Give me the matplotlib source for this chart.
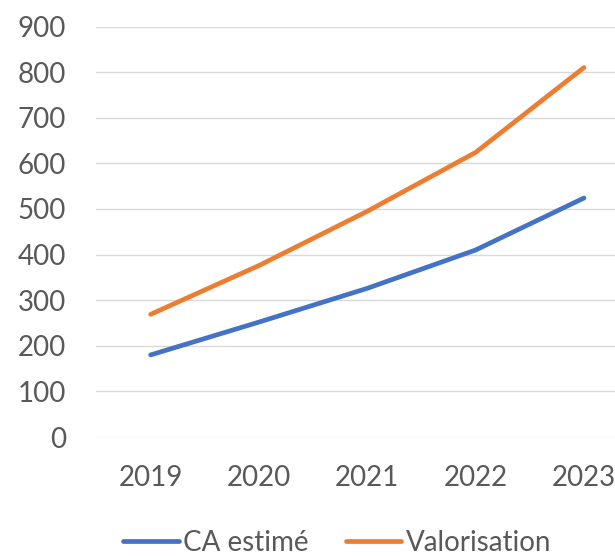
import matplotlib
matplotlib.use("Agg")
import matplotlib.pyplot as plt

years = ["2019", "2020", "2021", "2022", "2023"]
ca_estime = [180, 252, 326, 410, 524]
valorisation = [269, 376, 495, 624, 810]
yticks = [0, 100, 200, 300, 400, 500, 600, 700, 800, 900]

plt.rcParams['font.family'] = ['Lato', 'DejaVu Sans']

fig = plt.figure(figsize=(6.15, 5.56), dpi=100)
ax = fig.add_axes([0.1569, 0.2140, 0.8807, 0.7383])

x = list(range(len(years)))
ax.plot(x, ca_estime, color="#4472C4", lw=3.4, solid_capstyle="round", label="CA estimé", clip_on=False)
ax.plot(x, valorisation, color="#ED7D31", lw=3.4, solid_capstyle="round", label="Valorisation", clip_on=False)

ax.set_xlim(-0.5, len(years) - 0.5)
ax.set_ylim(0, 900)
ax.set_yticks(yticks)
ax.set_xticks(x)
ax.set_xticklabels(years)
ax.grid(axis="y", color="#D9D9D9", lw=1.0)
ax.set_axisbelow(True)
for s in ax.spines.values():
    s.set_visible(False)
ax.tick_params(axis="both", length=0, labelsize=20, colors="#595959")
ax.tick_params(axis="y", pad=22)
ax.tick_params(axis="x", pad=20.5)

leg = fig.legend(loc="center", bbox_to_anchor=(337 / 615, 1 - 543 / 556), ncol=2, frameon=False,
                 fontsize=20, handlelength=2.0, handletextpad=0.15, columnspacing=1.35,
                 labelcolor="#595959", borderaxespad=0, borderpad=0)

fig.savefig("out.png", dpi=100)
